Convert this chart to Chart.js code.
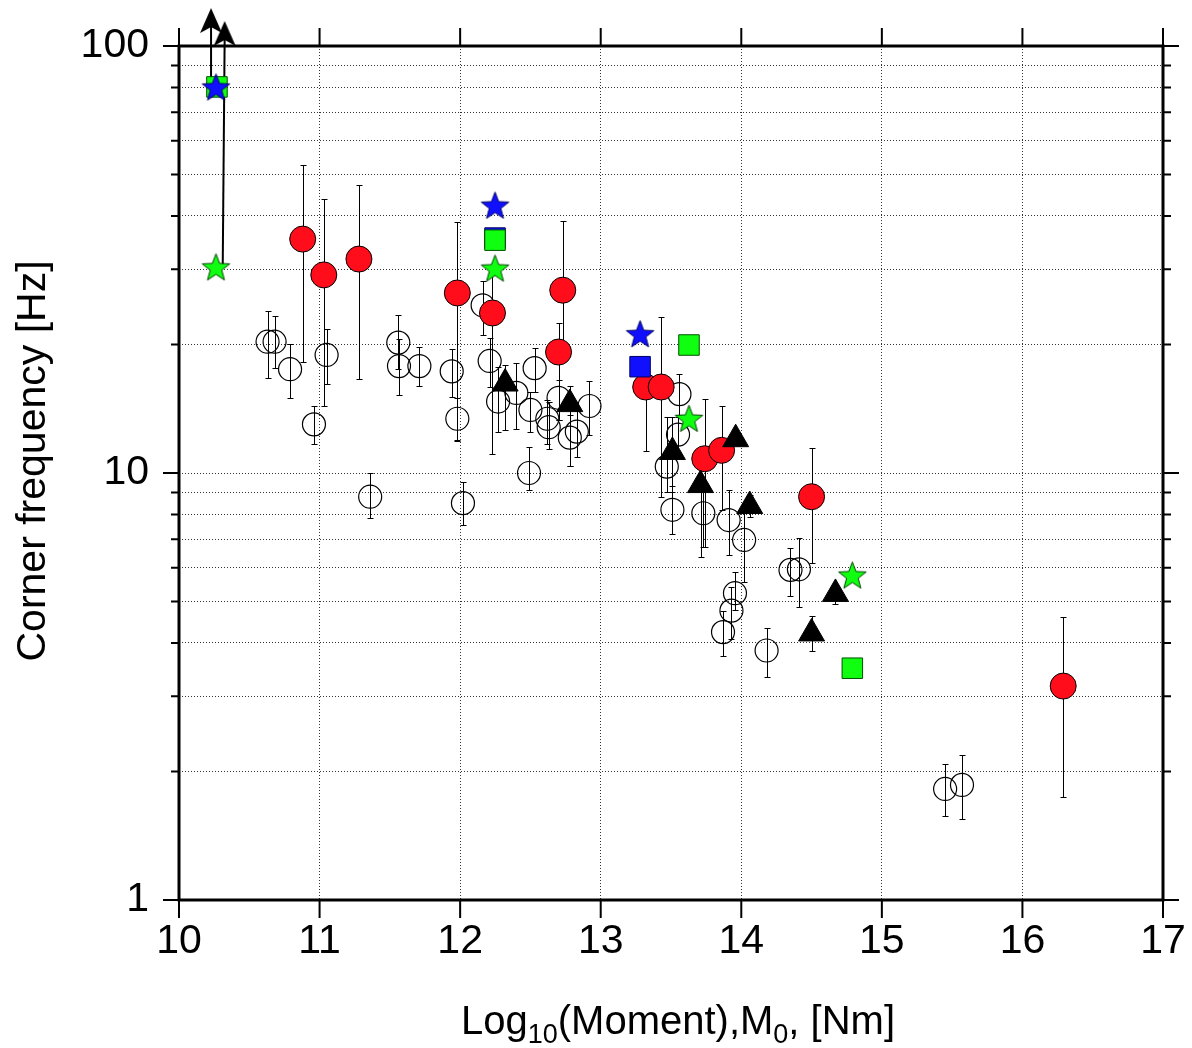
<!DOCTYPE html>
<html><head><meta charset="utf-8">
<script src="https://cdn.jsdelivr.net/npm/chart.js@4.4.1/dist/chart.umd.min.js"></script>
<style>html,body{margin:0;padding:0;background:#fff;overflow:hidden;width:1192px;height:1048px}#wrap{width:1192px;height:1048px;position:relative;overflow:hidden}canvas{display:block}</style>
</head><body><div id="wrap"><canvas id="c"></canvas></div>
<script>
// ---------- DATA ----------
const xTicks = [10, 11, 12, 13, 14, 15, 16, 17];
const yTicks = [1,2,3,4,5,6,7,8,9,10,20,30,40,50,60,70,80,90,100];
const yLabelled = [1, 10, 100];

// open circles
const openX  = [10.63,10.68,10.79,11.05,10.96,11.36,11.56,11.565,11.71,11.94,11.98,12.02,12.16,12.21,12.27,12.40,12.50,12.53,12.62,12.63,12.70,12.78,12.83,12.92,12.49,13.56,13.55,13.47,13.51,13.73,13.91,14.02,13.955,13.93,13.87,14.18,14.35,14.41,15.45,15.57];
const openY  = [20.3,20.3,17.5,18.9,13.0,8.8,20.2,17.8,17.8,17.3,13.4,8.5,24.7,18.3,14.7,15.4,14.05,17.6,13.4,12.8,15.0,12.1,12.5,14.35,10.0,15.3,12.3,10.35,8.2,8.05,7.76,6.97,5.23,4.76,4.24,3.84,5.93,5.95,1.82,1.86];
const openLo = [16.7,17.6,15.0,16.2,11.7,7.83,17.5,15.2,16.0,15.1,11.9,7.55,21.1,15.9,12.5,12.7,12.5,15.5,11.7,11.4,13.3,10.4,10.9,12.3,9.1,13.7,11.0,9.04,7.2,6.7,6.43,5.57,4.77,4.08,3.73,3.33,5.16,4.86,1.57,1.55];
const openHi = [23.9,23.3,20.0,21.7,14.35,9.98,23.5,20.6,19.7,19.5,15.0,9.55,28.2,20.7,17.7,18.1,15.5,19.6,14.8,14.7,16.5,13.7,14.0,16.4,11.5,17.1,13.5,13.5,9.3,9.5,9.1,8.34,5.85,5.40,4.75,4.34,6.69,7.03,2.08,2.18];

// red filled circles
const redX  = [10.88,11.03,11.28,11.98,12.23,12.73,12.70,13.32,13.43,13.74,13.86,14.50,16.29];
const redY  = [35.3,29.1,31.7,26.4,23.7,26.8,19.2,15.9,15.9,10.8,11.3,8.8,3.17];
const redLo = [18.2,14.35,16.6,11.95,11.1,19.2,13.3,11.26,8.8,6.72,8.19,6.14,1.74];
const redHi = [52.6,43.8,47.2,38.8,29.1,38.9,22.5,17.4,23.2,14.9,14.35,11.47,4.59];

// black triangles
const triX  = [12.32,12.78,13.51,13.96,13.71,14.06,14.67,14.50];
const triY  = [16.2,14.5,11.2,12.0,9.37,8.37,5.21,4.21];
const triLo = [12.6,10.4,9.04,null,6.37,7.9,4.93,3.83];
const triHi = [17.9,16.0,13.5,null,10.7,8.9,5.5,4.62];

// stars and squares
const blueStarX  = [10.263,12.248,13.28];
const blueStarY  = [80.2,42.4,21.2];
const greenStarX = [10.263,12.248,13.628,14.79];
const greenStarY = [30.4,30.2,13.43,5.77];
const blueSqX    = [12.248,13.28];
const blueSqY    = [35.5,17.74];
const greenSqX   = [10.27,12.248,13.628,14.79];
const greenSqY   = [80.2,35.1,19.94,3.49];

// arrows (start -> head)
const arrow1X = [10.228,10.228];
const arrow1Y = [80.2,114.4];
const arrow2X = [10.311,10.325];
const arrow2Y = [30.4,106.7];

// ---------- HELPERS ----------
function pts(xs, ys, lo, hi) {
  return xs.map((x, i) => ({x: x, y: ys[i], lo: lo ? lo[i] : null, hi: hi ? hi[i] : null}));
}
function makeStar(fill, stroke, R) {
  const s = Math.ceil(2 * R + 4);
  const c = document.createElement('canvas');
  c.width = s; c.height = s;
  const g = c.getContext('2d');
  const r = R * 0.42;
  g.translate(s / 2, s / 2 + R * 0.1);
  g.beginPath();
  for (let i = 0; i < 10; i++) {
    const rad = (i % 2 === 0) ? R : r;
    const a = -Math.PI / 2 + i * Math.PI / 5;
    const px = rad * Math.cos(a), py = rad * Math.sin(a);
    if (i === 0) g.moveTo(px, py); else g.lineTo(px, py);
  }
  g.closePath();
  g.fillStyle = fill; g.fill();
  g.lineWidth = 1; g.strokeStyle = stroke; g.stroke();
  return c;
}
function makeArrow() {
  const c = document.createElement('canvas');
  c.width = 24; c.height = 26;
  const g = c.getContext('2d');
  g.fillStyle = '#000';
  g.beginPath();
  g.moveTo(12, 0); g.lineTo(23, 25); g.lineTo(12, 19); g.lineTo(1, 25);
  g.closePath(); g.fill();
  return c;
}
const starBlue = makeStar('#1010ff', '#000060', 14.5);
const starGreen = makeStar('#10ff10', '#004000', 14.5);
const arrowHead = makeArrow();

const FONT = "'Liberation Sans', Arial, Helvetica, sans-serif";
Chart.defaults.font.family = FONT;
Chart.defaults.color = '#000';

// ---------- PLUGINS ----------
const framePlugin = {
  id: 'frame',
  beforeDatasetsDraw(chart) {
    const {ctx, chartArea: a} = chart;
    ctx.save();
    ctx.strokeStyle = '#000';
    ctx.lineWidth = 3;
    ctx.strokeRect(a.left, a.top, a.right - a.left, a.bottom - a.top);
    ctx.restore();
  }
};
const errorBarPlugin = {
  id: 'errorBars',
  beforeDatasetsDraw(chart) {
    const ctx = chart.ctx, xs = chart.scales.x, ys = chart.scales.y;
    ctx.save();
    ctx.strokeStyle = '#000';
    ctx.lineWidth = 1;
    chart.data.datasets.forEach(ds => {
      if (!ds.errorBars) return;
      ds.data.forEach(p => {
        if (p.lo == null || p.hi == null) return;
        const px = Math.round(xs.getPixelForValue(p.x)) + 0.5;
        const y1 = Math.round(ys.getPixelForValue(p.lo)) + 0.5;
        const y2 = Math.round(ys.getPixelForValue(p.hi)) + 0.5;
        ctx.beginPath();
        ctx.moveTo(px, y1); ctx.lineTo(px, y2);
        ctx.moveTo(px - 3, y1); ctx.lineTo(px + 3, y1);
        ctx.moveTo(px - 3, y2); ctx.lineTo(px + 3, y2);
        ctx.stroke();
      });
    });
    ctx.restore();
  }
};
const axisTickPlugin = {
  id: 'axisTicks',
  afterDraw(chart) {
    const {ctx, chartArea: a, scales: {x, y}} = chart;
    ctx.save();
    ctx.strokeStyle = '#000';
    ctx.lineWidth = 2;
    ctx.beginPath();
    xTicks.forEach(v => {
      const px = x.getPixelForValue(v);
      ctx.moveTo(px, a.bottom); ctx.lineTo(px, a.bottom + 18);
      ctx.moveTo(px, a.top); ctx.lineTo(px, a.top - 18);
    });
    yTicks.forEach(v => {
      const py = y.getPixelForValue(v);
      const L = yLabelled.includes(v) ? 16 : 8;
      ctx.moveTo(a.left, py); ctx.lineTo(a.left - L, py);
      ctx.moveTo(a.right, py); ctx.lineTo(a.right + L, py);
    });
    ctx.stroke();
    ctx.restore();
  }
};
const titlePlugin = {
  id: 'titles',
  afterDraw(chart) {
    const ctx = chart.ctx;
    ctx.save();
    ctx.fillStyle = '#000';
    // y title
    ctx.font = '41px ' + FONT;
    ctx.textAlign = 'center';
    ctx.textBaseline = 'alphabetic';
    ctx.translate(45, 461);
    ctx.rotate(-Math.PI / 2);
    ctx.fillText('Corner frequency [Hz]', 0, 0);
    ctx.restore();
    // x title with subscripts
    ctx.save();
    ctx.fillStyle = '#000';
    ctx.textAlign = 'left';
    ctx.textBaseline = 'alphabetic';
    const parts = [['Log', 40, 0], ['10', 27, 9], ['(Moment),M', 40, 0], ['0', 27, 9], [', [Nm]', 40, 0]];
    let total = 0;
    parts.forEach(p => { ctx.font = p[1] + 'px ' + FONT; p.push(ctx.measureText(p[0]).width); total += p[3]; });
    let cx = 678 - total / 2;
    const base = 1034;
    parts.forEach(p => { ctx.font = p[1] + 'px ' + FONT; ctx.fillText(p[0], cx, base + p[2]); cx += p[3]; });
    ctx.restore();
  }
};

// ---------- CHART ----------
const gridCommon = {color: 'rgba(0,0,0,0.8)', lineWidth: 1, drawTicks: false};
new Chart(document.getElementById('c'), {
  type: 'scatter',
  data: {
    datasets: [
      {label: 'blue stars', data: pts(blueStarX, blueStarY), pointStyle: starBlue, pointRadius: 14},
      {label: 'green stars', data: pts(greenStarX, greenStarY), pointStyle: starGreen, pointRadius: 14},
      {label: 'green squares', data: pts(greenSqX, greenSqY), pointStyle: 'rect', pointRadius: 14.5,
        backgroundColor: '#10ff10', borderColor: '#005000', borderWidth: 1},
      {label: 'blue squares', data: pts(blueSqX, blueSqY), pointStyle: 'rect', pointRadius: 14.5,
        backgroundColor: '#1010ff', borderColor: '#000060', borderWidth: 1},
      {label: 'triangles', data: pts(triX, triY, triLo, triHi), errorBars: true, pointStyle: 'triangle', pointRadius: 15,
        backgroundColor: '#000', borderColor: '#000', borderWidth: 1},
      {label: 'red', data: pts(redX, redY, redLo, redHi), errorBars: true, pointStyle: 'circle', pointRadius: 13,
        backgroundColor: '#ff0d1a', borderColor: '#000', borderWidth: 1},
      {label: 'open', data: pts(openX, openY, openLo, openHi), errorBars: true, pointStyle: 'circle', pointRadius: 11.5,
        backgroundColor: 'rgba(0,0,0,0)', borderColor: '#000', borderWidth: 1.2},
      {type: 'line', label: 'arrow1', data: pts(arrow1X, arrow1Y), borderColor: '#000', borderWidth: 2,
        pointStyle: arrowHead, pointRadius: [0, 40], clip: false, fill: false, tension: 0},
      {type: 'line', label: 'arrow2', data: pts(arrow2X, arrow2Y), borderColor: '#000', borderWidth: 2,
        pointStyle: arrowHead, pointRadius: [0, 40], clip: false, fill: false, tension: 0}
    ]
  },
  options: {
    responsive: true,
    maintainAspectRatio: false,
    animation: false,
    events: [],
    layout: {autoPadding: false, padding: {left: 0, right: 29, top: 46, bottom: 0}},
    plugins: {legend: {display: false}, tooltip: {enabled: false}},
    scales: {
      x: {
        type: 'linear', min: 10, max: 17,
        afterFit(s) { s.height = 148; s.paddingLeft = 0; s.paddingRight = 0; },
        afterBuildTicks(s) { s.ticks = xTicks.map(v => ({value: v})); },
        ticks: {padding: 17, color: '#000', font: {size: 41}, autoSkip: false, maxRotation: 0,
          callback: v => String(v)},
        grid: gridCommon,
        border: {display: false, dash: [1, 2]}
      },
      y: {
        type: 'logarithmic', min: 1, max: 100,
        afterFit(s) { s.width = 179; s.paddingTop = 0; s.paddingBottom = 0; },
        afterBuildTicks(s) { s.ticks = yTicks.map(v => ({value: v})); },
        ticks: {padding: 30, color: '#000', font: {size: 41}, autoSkip: false,
          callback: v => (yLabelled.includes(v) ? String(v) : '')},
        grid: gridCommon,
        border: {display: false, dash: [1, 2]}
      }
    }
  },
  plugins: [framePlugin, errorBarPlugin, axisTickPlugin, titlePlugin]
});
</script>
</body></html>
